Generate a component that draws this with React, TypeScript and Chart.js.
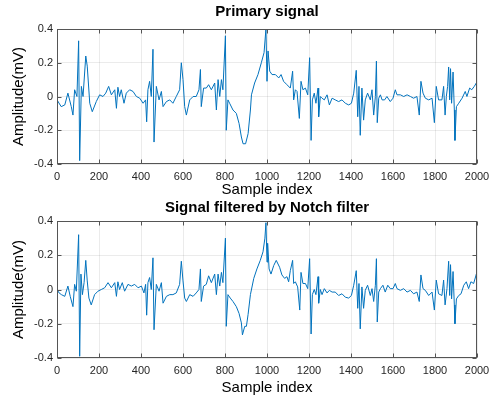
import React, { useEffect, useRef } from "react";
import { Chart, registerables } from "chart.js";

Chart.register(...registerables);

const xTickValues = [0, 200, 400, 600, 800, 1000, 1200, 1400, 1600, 1800, 2000];
const yTickValues = [-0.4, -0.2, 0, 0.2, 0.4];

const primaryIndex = [
  0, 20, 37, 52, 68, 76, 84, 95, 103, 108, 116, 124, 137, 144, 156, 168, 187, 203, 219, 232,
  246, 259, 275, 283, 290, 298, 306, 319, 330, 346, 362, 378, 394, 410, 422, 427, 433, 441, 449, 457,
  462, 473, 486, 497, 505, 521, 537, 552, 568, 584, 592, 600, 608, 616, 632, 648, 663, 676, 683, 687,
  698, 711, 722, 735, 751, 759, 767, 775, 783, 790, 802, 806, 814, 822, 838, 854, 867, 878, 886, 898,
  910, 921, 926, 941, 957, 973, 986, 995, 1000, 1005, 1013, 1024, 1040, 1056, 1067, 1079, 1095, 1111, 1122, 1127,
  1135, 1143, 1154, 1162, 1171, 1183, 1194, 1203, 1210, 1216, 1225, 1233, 1243, 1246, 1254, 1262, 1273, 1286, 1297, 1310,
  1325, 1341, 1357, 1373, 1389, 1402, 1413, 1425, 1432, 1438, 1444, 1452, 1460, 1468, 1479, 1492, 1500, 1508, 1516, 1521,
  1525, 1532, 1540, 1548, 1560, 1571, 1587, 1600, 1611, 1619, 1635, 1651, 1667, 1683, 1698, 1714, 1725, 1733, 1743, 1754,
  1770, 1786, 1797, 1806, 1817, 1833, 1841, 1848, 1854, 1860, 1865, 1870, 1874, 1879, 1886, 1892, 1895, 1902, 1913, 1929,
  1944, 1952, 1965, 1975, 1987, 1997, 2000,
];
const primarySignal = [
  -0.02, -0.06, -0.05, 0.02, -0.06, -0.11, 0.04, 0.0, 0.33, -0.38, 0.06, 0.0, 0.24, 0.18, -0.04, -0.09, -0.03, 0.01, 0.0, 0.02,
  0.06, 0.01, 0.04, -0.07, 0.055, 0.0, 0.04, -0.04, 0.02, 0.04, 0.03, 0.0, -0.01, -0.04, -0.02, -0.15, 0.04, 0.09, 0.0, 0.28,
  -0.27, 0.06, -0.02, 0.03, -0.06, -0.03, -0.02, -0.04, 0.0, 0.04, 0.2, 0.1, -0.06, -0.11, -0.02, 0.0, 0.0, 0.04, 0.16, -0.06,
  0.05, 0.05, 0.07, 0.04, 0.08, -0.08, 0.1, 0.0, 0.1, 0.04, 0.36, -0.2, -0.02, -0.04, -0.08, -0.1, -0.16, -0.24, -0.28, -0.28,
  -0.22, -0.08, 0.01, 0.08, 0.13, 0.2, 0.26, 0.4, 0.09, 0.27, 0.15, 0.13, 0.13, 0.11, 0.13, 0.09, 0.07, 0.05, 0.15, -0.02,
  0.04, 0.03, -0.13, 0.09, 0.04, 0.05, 0.01, 0.23, -0.26, -0.02, 0.02, -0.04, 0.05, -0.12, 0.0, -0.01, -0.02, 0.01, -0.05, -0.01,
  -0.02, -0.03, -0.02, -0.04, -0.05, -0.04, 0.02, 0.155, -0.12, 0.06, -0.23, 0.05, -0.14, -0.02, 0.02, -0.02, 0.04, -0.11, 0.0, 0.21,
  -0.155, -0.01, 0.01, -0.02, -0.02, 0.0, -0.03, -0.01, 0.04, 0.01, 0.01, 0.0, 0.01, 0.0, -0.01, 0.0, -0.11, 0.09, 0.02, -0.01,
  -0.02, -0.01, -0.155, 0.06, -0.02, -0.02, 0.06, -0.11, 0.0, 0.06, 0.175, -0.02, 0.165, -0.04, 0.145, -0.08, -0.26, -0.06, -0.04, -0.01,
  0.03, 0.0, 0.05, 0.04, 0.06, 0.08, 0.04,
];

const notchIndex = [
  0, 10, 21, 37, 52, 63, 76, 84, 92, 103, 108, 114, 121, 129, 137, 144, 152, 163, 179, 195,
  211, 227, 243, 259, 275, 283, 290, 298, 311, 322, 338, 354, 370, 386, 402, 414, 422, 427, 433, 441,
  449, 457, 462, 473, 486, 497, 505, 521, 537, 552, 568, 584, 592, 600, 608, 616, 632, 648, 663, 676,
  683, 687, 698, 711, 722, 735, 751, 759, 767, 775, 783, 790, 802, 806, 814, 825, 838, 854, 867, 878,
  883, 894, 902, 910, 921, 937, 952, 968, 981, 990, 995, 1000, 1003, 1010, 1019, 1032, 1044, 1060, 1071, 1084,
  1095, 1103, 1111, 1122, 1127, 1135, 1146, 1156, 1162, 1171, 1183, 1194, 1203, 1210, 1216, 1225, 1233, 1243, 1246, 1254,
  1262, 1273, 1286, 1297, 1310, 1325, 1341, 1357, 1373, 1389, 1402, 1413, 1425, 1432, 1438, 1444, 1452, 1460, 1468, 1479,
  1492, 1500, 1508, 1516, 1521, 1525, 1532, 1540, 1552, 1563, 1575, 1587, 1600, 1611, 1619, 1635, 1651, 1667, 1683, 1698,
  1714, 1725, 1733, 1743, 1754, 1770, 1786, 1797, 1806, 1817, 1833, 1841, 1848, 1857, 1865, 1870, 1874, 1879, 1886, 1892,
  1895, 1902, 1913, 1924, 1937, 1949, 1960, 1971, 1984, 1997, 2000,
];
const notchSignal = [
  0.0, -0.02, -0.03, -0.04, 0.02, -0.04, -0.1, 0.03, -0.01, 0.32, -0.39, 0.09, -0.03, 0.04, 0.17, 0.05, -0.05, -0.09, -0.03, -0.01,
  0.0, 0.01, 0.04, 0.01, 0.04, -0.04, 0.045, 0.0, 0.04, -0.01, 0.03, 0.02, 0.03, 0.01, 0.02, -0.02, 0.03, -0.15, 0.04, 0.07,
  0.0, 0.185, -0.235, 0.03, -0.01, 0.04, -0.08, -0.04, -0.03, -0.03, -0.02, 0.03, 0.165, 0.05, -0.05, -0.07, -0.03, -0.04, -0.02, 0.0,
  0.12, -0.07, 0.02, 0.03, 0.08, 0.04, 0.09, -0.03, 0.09, 0.02, 0.1, 0.04, 0.3, -0.215, -0.03, -0.05, -0.07, -0.1, -0.14, -0.195,
  -0.265, -0.215, -0.215, -0.145, -0.03, 0.065, 0.12, 0.17, 0.22, 0.3, 0.39, 0.16, 0.27, 0.12, 0.09, 0.14, 0.17, 0.13, 0.085, 0.065,
  0.075, 0.045, 0.11, 0.17, 0.035, 0.045, 0.015, -0.12, 0.1, 0.035, 0.035, 0.005, 0.18, -0.26, -0.03, 0.0, -0.03, 0.075, -0.08, 0.0,
  -0.03, 0.005, -0.02, -0.005, -0.015, -0.015, -0.035, -0.025, -0.045, -0.05, -0.035, 0.025, 0.11, -0.11, 0.035, -0.23, 0.015, -0.11, -0.005, 0.025,
  -0.035, 0.005, -0.07, 0.025, 0.18, -0.19, -0.015, 0.005, 0.025, -0.015, 0.025, 0.005, 0.005, 0.035, 0.005, -0.005, 0.005, -0.015, -0.005, -0.025,
  -0.015, -0.07, 0.085, 0.005, -0.005, -0.035, -0.015, -0.12, 0.055, -0.025, -0.035, 0.055, -0.09, 0.005, 0.165, -0.035, 0.145, -0.055, 0.105, -0.09,
  -0.2, -0.055, -0.035, -0.025, 0.025, 0.045, 0.005, 0.045, 0.035, 0.09, 0.045,
];

const FONT = '"Liberation Sans", Arial, Helvetica, sans-serif';
const LINE_COLOR = "#0072BD";
const AXIS_COLOR = "#555555";
const TEXT_COLOR = "#262626";

const boxPlugin = {
  id: "matlabBox",
  afterDraw(chart: any) {
    const { ctx, chartArea: a, scales } = chart;
    ctx.save();
    ctx.strokeStyle = AXIS_COLOR;
    ctx.lineWidth = 1;
    const l = Math.round(a.left) + 0.5;
    const r = Math.round(a.right) - 0.5;
    const t = Math.round(a.top) + 0.5;
    const b = Math.round(a.bottom) - 0.5;
    ctx.strokeRect(l, t, r - l, b - t);
    const len = 4;
    ctx.beginPath();
    for (const v of xTickValues) {
      const px = Math.round(scales.x.getPixelForValue(v)) + 0.5;
      ctx.moveTo(px, b);
      ctx.lineTo(px, b - len);
      ctx.moveTo(px, t);
      ctx.lineTo(px, t + len);
    }
    for (const v of yTickValues) {
      const py = Math.round(scales.y.getPixelForValue(v)) + 0.5;
      ctx.moveTo(l, py);
      ctx.lineTo(l + len, py);
      ctx.moveTo(r, py);
      ctx.lineTo(r - len, py);
    }
    ctx.stroke();
    ctx.restore();
  },
};

function makeConfig(
  title: string,
  idx: number[],
  vals: number[],
  titlePad: { top: number; bottom: number },
  xAxisHeight: number,
  xTitlePadBottom: number
): any {
  const points = idx.map((x, i) => ({ x, y: vals[i] }));
  return {
    type: "line",
    data: {
      datasets: [
        {
          data: points,
          borderColor: LINE_COLOR,
          borderWidth: 1,
          pointRadius: 0,
          tension: 0,
          fill: false,
        },
      ],
    },
    plugins: [boxPlugin],
    options: {
      responsive: false,
      animation: false,
      devicePixelRatio: 1,
      layout: { padding: { left: 0, right: 26, top: 0, bottom: 0 } },
      plugins: {
        legend: { display: false },
        tooltip: { enabled: false },
        title: {
          display: true,
          text: title,
          fullSize: false,
          color: "#000",
          font: { family: FONT, size: 15, weight: "bold" },
          padding: titlePad,
        },
      },
      scales: {
        x: {
          type: "linear",
          min: 0,
          max: 2000,
          afterBuildTicks: (scale: any) => {
            scale.ticks = xTickValues.map((v) => ({ value: v }));
          },
          afterFit: (scale: any) => {
            scale.height = xAxisHeight;
          },
          ticks: {
            color: TEXT_COLOR,
            font: { family: FONT, size: 11 },
            padding: 6,
            maxRotation: 0,
            autoSkip: false,
            callback: (v: any) => String(v),
          },
          grid: { color: "rgba(0,0,0,0.08)", drawTicks: false },
          border: { display: false },
          title: {
            display: true,
            text: "Sample index",
            color: "#000",
            font: { family: FONT, size: 15 },
            padding: { top: 0, bottom: xTitlePadBottom },
          },
        },
        y: {
          type: "linear",
          min: -0.4,
          max: 0.4,
          afterBuildTicks: (scale: any) => {
            scale.ticks = yTickValues.map((v) => ({ value: v }));
          },
          afterFit: (scale: any) => {
            scale.width = 57;
          },
          ticks: {
            color: TEXT_COLOR,
            font: { family: FONT, size: 11 },
            padding: 4,
            autoSkip: false,
            callback: (v: any) => String(Number(Number(v).toFixed(1))),
          },
          grid: { color: "rgba(0,0,0,0.08)", drawTicks: false },
          border: { display: false },
          title: {
            display: true,
            text: "Amplitude(mV)",
            color: "#000",
            font: { family: FONT, size: 15 },
            padding: { top: 10, bottom: 0 },
          },
        },
      },
    },
  };
}

export default function App() {
  const topRef = useRef<HTMLCanvasElement | null>(null);
  const bottomRef = useRef<HTMLCanvasElement | null>(null);

  useEffect(() => {
    const charts: Chart[] = [];
    if (topRef.current) {
      charts.push(
        new Chart(
          topRef.current,
          makeConfig("Primary signal", primaryIndex, primarySignal, { top: 3, bottom: 8 }, 35, 0)
        )
      );
    }
    if (bottomRef.current) {
      charts.push(
        new Chart(
          bottomRef.current,
          makeConfig(
            "Signal filtered by Notch filter",
            notchIndex,
            notchSignal,
            { top: 0, bottom: 4 },
            40,
            1
          )
        )
      );
    }
    return () => charts.forEach((c) => c.destroy());
  }, []);

  return (
    <div style={{ position: "absolute", left: 0, top: 0, width: 503, height: 398, background: "#fff" }}>
      <canvas ref={topRef} width={503} height={199} style={{ display: "block", width: 503, height: 199 }} />
      <canvas ref={bottomRef} width={503} height={199} style={{ display: "block", width: 503, height: 199 }} />
    </div>
  );
}
